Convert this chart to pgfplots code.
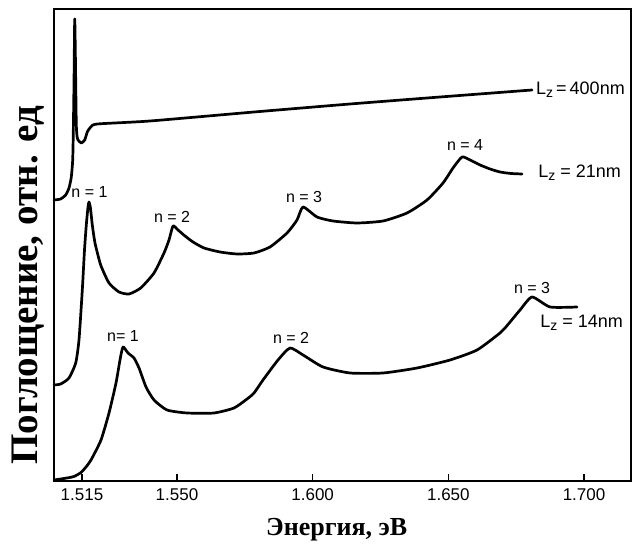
\documentclass[border=0pt]{standalone}
\usepackage{fontspec}
\setmainfont{Liberation Serif}
\newfontfamily\lab{Liberation Sans}
\usepackage{pgfplots}
\pgfplotsset{compat=1.18}
\newcommand{\Lz}{L\raisebox{-0.28ex}{\fontsize{14}{14}\selectfont z}}
\begin{document}
\begin{tikzpicture}
\path[use as bounding box] (-54pt,-64pt) rectangle (579pt,481pt);
\begin{axis}[
  scale only axis, width=577pt, height=472pt,
  xmin=1.50468, xmax=1.71730, ymin=0, ymax=472,
  axis line style={line width=1.5pt},
  xtick={1.515,1.550,1.600,1.650,1.700},
  xticklabels={1.515,1.550,1.600,1.650,1.700},
  xtick pos=bottom, tick align=inside, major tick length=7pt,
  xtick style={line width=1.2pt, black},
  ytick=\empty,
  xticklabel style={font=\lab\fontsize{17}{17}\selectfont, yshift=-4pt},
  xlabel={\textbf{Энергия, эВ}},
  ylabel={\textbf{Поглощение, отн. ед}},
  xlabel style={font=\fontsize{26}{26}\selectfont, at={(rel axis cs:0.49,-0.104)}, anchor=center},
  ylabel style={font=\fontsize{39}{39}\selectfont, at={(rel axis cs:-0.045,0.415)}, anchor=center},
  clip=false,
  cycle list={{black}},
  every axis plot/.append style={line width=2.7pt, line join=round, line cap=round, no marks, smooth, tension=0.35},
]
% L_z = 400 nm
\addplot coordinates {
(1.50468,281)(1.50715,282)(1.50899,286)(1.51021,293)(1.51106,304)(1.51157,321)
(1.51179,348)(1.51205,398)(1.51231,462)(1.51253,431)(1.51272,391)(1.51290,356)
(1.51316,345)(1.51353,341)(1.51474,338)(1.51600,341)(1.51695,349)(1.51821,354)
(1.52064,357)(1.54006,360)(1.57839,369)(1.61377,377)(1.64693,384)(1.68084,391)
};
% L_z = 21 nm
\addplot coordinates {
(1.50468,96)(1.50715,97)(1.51021,103)(1.51268,118)(1.51389,141)(1.51511,191)
(1.51592,231)(1.51658,256)(1.51721,274)(1.51758,279)(1.51806,274)(1.51880,256)
(1.51979,238)(1.52189,216)(1.52495,198)(1.52864,189)(1.53232,187)(1.53663,193)
(1.54153,208)(1.54522,228)(1.54706,241)(1.54854,255)(1.55038,251)(1.55296,245)
(1.55591,239)(1.55996,233)(1.56585,229)(1.57212,227)(1.57839,228)(1.58428,234)
(1.59055,248)(1.59423,261)(1.59645,274)(1.60160,264)(1.60750,260)(1.61635,258)
(1.62593,260)(1.63477,268)(1.64214,281)(1.64804,298)(1.65172,313)(1.65504,324)
(1.65799,321)(1.66168,316)(1.66536,312)(1.66904,309)(1.67310,307.5)(1.67715,307)
};
% L_z = 14 nm
\addplot coordinates {
(1.50468,1)(1.50947,3)(1.51205,4.5)(1.51463,8.5)(1.51647,14)(1.51832,21)
(1.52200,41)(1.52495,68)(1.52753,98)(1.52900,121)(1.53011,134)(1.53195,128)
(1.53416,123)(1.53601,113)(1.53859,94)(1.54153,81)(1.54632,71)(1.55369,68)
(1.56365,68)(1.57102,73)(1.57581,82)(1.57839,88)(1.58170,101)(1.58723,121)
(1.59165,133)(1.59645,126)(1.60382,114)(1.61377,108)(1.62593,108)(1.63846,113)
(1.65062,121)(1.66057,131)(1.66904,148)(1.67089,153)(1.67641,171)(1.68084,184)
(1.68747,174)(1.69742,174)
};
\begin{scope}[every node/.style={font=\lab\fontsize{16}{16}\selectfont, inner sep=0pt}]
\node at (axis cs:1.51774,289) {n = 1};
\node at (axis cs:1.54817,264) {n = 2};
\node at (axis cs:1.59681,284) {n = 3};
\node at (axis cs:1.65615,336) {n = 4};
\node at (axis cs:1.53011,145) {n= 1};
\node at (axis cs:1.59202,143) {n = 2};
\node at (axis cs:1.68084,193) {n = 3};
\end{scope}
\begin{scope}[every node/.style={font=\lab\fontsize{18}{18}\selectfont, inner sep=0pt, anchor=west}]
\node at (axis cs:1.68230,391) {\Lz\,=\,400nm};
\node at (axis cs:1.68305,308) {\Lz{} = 21nm};
\node at (axis cs:1.68379,158) {\Lz{} = 14nm};
\end{scope}
\end{axis}
\end{tikzpicture}
\end{document}
